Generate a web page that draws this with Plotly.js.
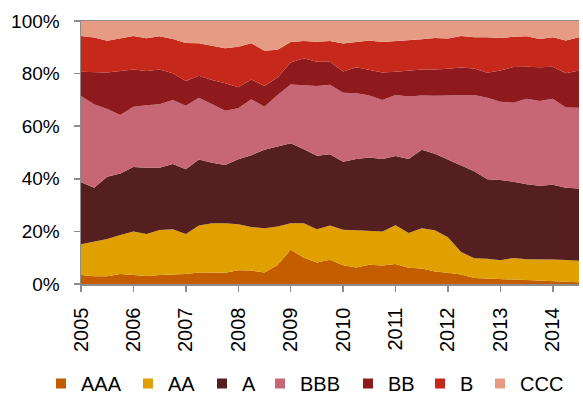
<!DOCTYPE html>
<html>
<head>
<meta charset="utf-8">
<script src="https://cdn.plot.ly/plotly-3.0.1.min.js"></script>
<style>html,body{margin:0;padding:0;background:#fff;}#chart{width:583px;height:396px;}</style>
</head>
<body>
<div id="chart"></div>
<script>
// Quarterly observations, 2005 Q1 .. 2014 Q3
const quarters = [
  '2005Q1','2005Q2','2005Q3','2005Q4','2006Q1','2006Q2','2006Q3','2006Q4',
  '2007Q1','2007Q2','2007Q3','2007Q4','2008Q1','2008Q2','2008Q3','2008Q4',
  '2009Q1','2009Q2','2009Q3','2009Q4','2010Q1','2010Q2','2010Q3','2010Q4',
  '2011Q1','2011Q2','2011Q3','2011Q4','2012Q1','2012Q2','2012Q3','2012Q4',
  '2013Q1','2013Q2','2013Q3','2013Q4','2014Q1','2014Q2','2014Q3'
];
const tickQuarters = ['2005Q1','2006Q1','2007Q1','2008Q1','2009Q1','2010Q1','2011Q1','2012Q1','2013Q1','2014Q1'];
const tickLabels = ['2005','2006','2007','2008','2009','2010','2011','2012','2013','2014'];
const yTicks = [0, 20, 40, 60, 80, 100];
const yTickLabels = ['0%','20%','40%','60%','80%','100%'];

const ratings = ['AAA','AA','A','BBB','BB','B','CCC'];

const AAA = [3.4,2.9,2.9,3.8,3.4,3.0,3.4,3.5,3.8,4.4,4.3,4.3,5.2,5.1,4.4,7.2,13.0,10.0,8.2,9.2,7.1,6.3,7.3,7.0,7.6,6.2,5.9,4.8,4.3,3.6,2.3,2.1,1.7,1.6,1.3,1.2,1.1,0.9,0.7];
const AA  = [11.7,13.2,14.2,14.8,16.6,16.0,17.1,17.3,15.2,17.8,18.8,18.8,17.5,16.6,16.8,14.7,10.1,13.1,12.6,13.0,13.5,14.1,13.0,13.0,14.7,13.2,15.3,15.6,13.5,8.6,7.5,7.5,7.3,8.3,8.1,8.2,8.2,8.2,8.1];
const A   = [23.6,20.5,23.7,23.4,24.5,25.2,23.7,24.8,24.6,25.1,23.0,22.1,24.7,27.3,29.8,30.3,30.4,28.1,28.0,27.1,25.9,27.1,27.8,27.5,26.4,28.1,29.8,29.1,29.6,33.1,33.1,30.2,30.5,29.0,28.5,28.0,28.4,27.5,27.5];
const BBB = [32.8,31.7,25.7,22.3,22.9,23.8,24.1,24.4,24.2,23.5,22.2,20.7,19.4,21.2,16.4,19.7,22.4,24.5,26.5,26.5,26.2,25.0,23.6,22.5,23.2,23.8,20.7,22.1,24.4,26.5,29.0,31.0,29.8,30.0,32.5,32.2,32.7,30.5,30.7];
const BB  = [9.2,12.3,13.9,16.7,14.2,13.0,13.3,10.1,9.4,8.4,9.3,10.4,8.0,7.6,7.9,6.6,8.3,10.1,9.2,8.7,8.1,9.9,9.8,10.4,8.8,9.9,9.9,10.0,10.0,10.5,10.0,9.5,11.9,13.6,12.2,12.8,12.2,13.0,14.2];
const B   = [13.6,13.1,12.1,12.4,12.7,12.4,12.6,13.1,14.4,12.3,12.9,13.3,15.4,13.7,13.4,10.6,7.8,6.6,7.6,7.9,10.6,9.6,11.1,11.6,11.6,11.4,11.5,11.9,11.5,12.0,11.9,13.5,12.3,11.5,11.6,10.8,11.2,12.5,12.6];
const CCC = [5.7,6.3,7.5,6.6,5.7,6.6,5.8,6.8,8.4,8.5,9.5,10.4,9.8,8.5,11.3,10.9,8.0,7.6,7.9,7.6,8.6,8.0,7.4,8.0,7.7,7.4,6.9,6.5,6.7,5.7,6.2,6.2,6.5,6.0,5.8,6.8,6.2,7.4,6.2];

const series = [AAA, AA, A, BBB, BB, B, CCC];
const colors = ['#C45C00','#E0A000','#541F1E','#C76675','#8F1A1E','#C6291C','#E69C83'];

const font = 'Arial, "Liberation Sans", sans-serif';
const W = 583, H = 396, ML = 81, MR = 4, MT = 21, MB = 112;
const plotW = W - ML - MR, plotH = H - MT - MB;
// pixel left edges of legend entries (one legend per entry so spacing follows the reference)
const legendLeftPx = [41, 128, 202, 260, 348, 420, 480];
const legendCenterYPx = 383.5;

const traces = [];
series.forEach((vals, k) => {
  traces.push({
    type: 'scatter', mode: 'lines', x: quarters, y: vals,
    stackgroup: 'one', name: ratings[k],
    line: {width: 0, color: colors[k]}, fillcolor: colors[k],
    showlegend: false, hoverinfo: 'x+y+name'
  });
});
const layout = {
  width: W, height: H,
  margin: {l: ML, r: MR, t: MT, b: MB, autoexpand: false},
  paper_bgcolor: '#fff', plot_bgcolor: '#fff',
  font: {family: font, size: 19, color: '#000'},
  showlegend: true,
  xaxis: {
    type: 'category', categoryorder: 'array', categoryarray: quarters,
    range: [0, quarters.length - 1], automargin: false,
    tickmode: 'array', tickvals: tickQuarters, ticktext: tickLabels,
    tickangle: -90, ticks: 'outside', ticklen: 6, tickwidth: 1.5, tickcolor: '#8c8c8c',
    showline: true, linecolor: '#8c8c8c', linewidth: 1.5, mirror: true,
    showgrid: false, zeroline: false, ticklabelstandoff: 8,
    tickfont: {family: font, size: 20, color: '#000'}
  },
  yaxis: {
    range: [0, 100], automargin: false,
    tickmode: 'array', tickvals: yTicks, ticktext: yTickLabels,
    ticks: 'outside', ticklen: 6, tickwidth: 1.5, tickcolor: '#8c8c8c',
    showline: true, linecolor: '#8c8c8c', linewidth: 1.5,
    showgrid: false, zeroline: false, ticklabelstandoff: 10,
    tickfont: {family: font, size: 19, color: '#000'}
  }
};
ratings.forEach((r, k) => {
  const lname = k === 0 ? 'legend' : 'legend' + (k + 1);
  traces.push({
    type: 'scatter', mode: 'markers', x: [null], y: [null], name: r,
    marker: {symbol: 'square', size: 10, color: colors[k]},
    showlegend: true, legend: lname, hoverinfo: 'skip'
  });
  layout[lname] = {
    orientation: 'h',
    x: (legendLeftPx[k] - ML) / plotW, xanchor: 'left',
    y: (MT + plotH - legendCenterYPx) / plotH, yanchor: 'middle',
    font: {family: font, size: 20, color: '#000'},
    bgcolor: 'rgba(0,0,0,0)', borderwidth: 0,
    itemclick: false, itemdoubleclick: false
  };
});

Plotly.newPlot('chart', traces, layout, {displayModeBar: false, staticPlot: true});
</script>
</body>
</html>
